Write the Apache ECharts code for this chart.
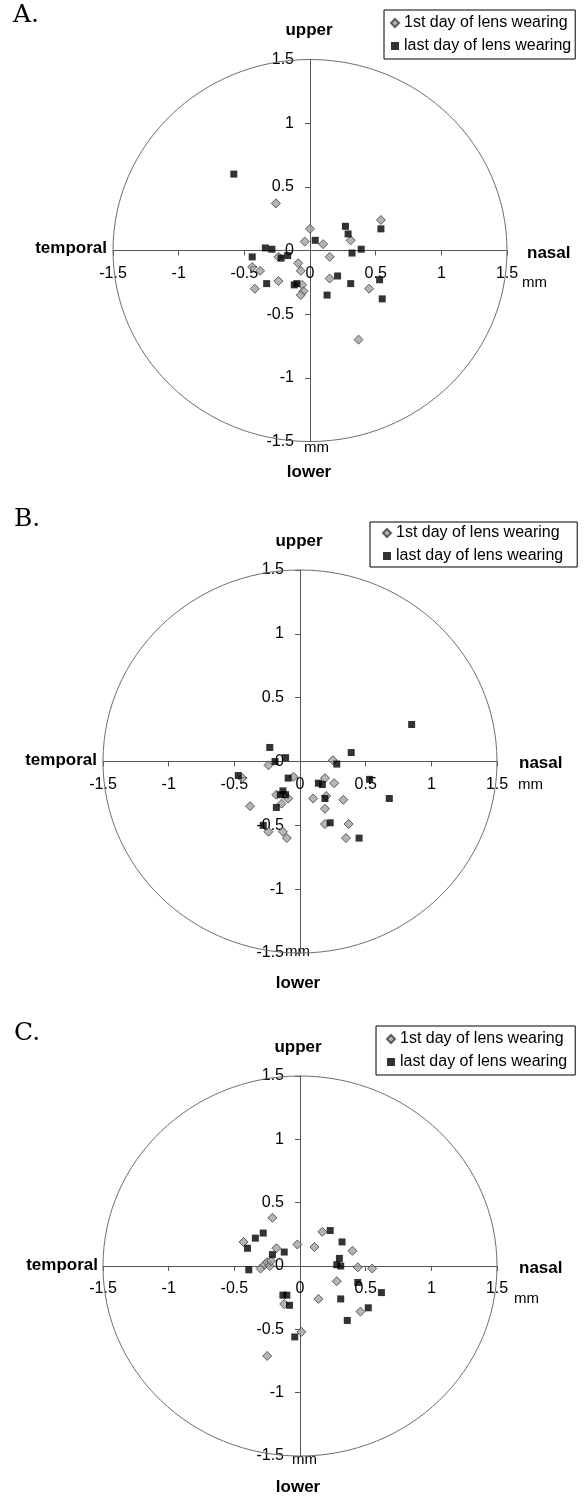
<!DOCTYPE html>
<html>
<head>
<meta charset="utf-8">
<script src="https://cdn.jsdelivr.net/npm/echarts@6/dist/echarts.min.js"></script>
<style>
  html, body { margin: 0; padding: 0; background: #fff; }
  #chart { width: 585px; height: 1497px; }
</style>
</head>
<body>
<div id="chart"></div>
<script>
// Lens decentration in mm: x > 0 nasal, x < 0 temporal; y > 0 upper, y < 0 lower
const axisMin = -1.5;
const axisMax = 1.5;
const axisStep = 0.5;
const seriesNames = ['1st day of lens wearing', 'last day of lens wearing'];
const panelLetters = ['A.', 'B.', 'C.'];
const directionLabels = { up: 'upper', down: 'lower', left: 'temporal', right: 'nasal', unit: 'mm' };

const firstDayA = [
  [-0.26, 0.37], [0.54, 0.24], [0.00, 0.17], [-0.04, 0.07], [0.10, 0.05],
  [0.31, 0.08], [0.15, -0.05], [-0.24, -0.05], [-0.44, -0.13], [-0.38, -0.16],
  [-0.42, -0.30], [-0.24, -0.24], [-0.09, -0.10], [-0.07, -0.16], [-0.06, -0.27],
  [-0.05, -0.32], [-0.07, -0.35], [0.15, -0.22], [0.45, -0.30], [0.37, -0.70]
];
const lastDayA = [
  [-0.58, 0.60], [0.27, 0.19], [0.29, 0.13], [0.54, 0.17], [0.04, 0.08],
  [-0.34, 0.02], [-0.29, 0.01], [-0.44, -0.05], [-0.22, -0.06], [-0.17, -0.04],
  [0.32, -0.02], [0.39, 0.01], [0.21, -0.20], [-0.33, -0.26], [-0.12, -0.27],
  [-0.10, -0.26], [0.31, -0.26], [0.13, -0.35], [0.53, -0.23], [0.55, -0.38]
];

const firstDayB = [
  [0.25, 0.01], [-0.24, -0.03], [-0.44, -0.13], [0.19, -0.13], [0.26, -0.17],
  [-0.18, -0.26], [-0.09, -0.29], [0.10, -0.29], [0.20, -0.27], [0.33, -0.30],
  [-0.38, -0.35], [-0.14, -0.33], [0.19, -0.37], [0.19, -0.49], [0.37, -0.49],
  [-0.24, -0.55], [-0.13, -0.55], [-0.10, -0.60], [0.35, -0.60], [-0.05, -0.12]
];
const lastDayB = [
  [0.85, 0.29], [0.39, 0.07], [-0.23, 0.11], [-0.11, 0.03], [-0.19, 0.00],
  [0.28, -0.02], [-0.47, -0.11], [-0.09, -0.13], [0.53, -0.14], [0.14, -0.17],
  [0.17, -0.18], [-0.13, -0.23], [-0.15, -0.26], [-0.11, -0.26], [0.19, -0.29],
  [0.68, -0.29], [-0.18, -0.36], [-0.28, -0.50], [0.23, -0.48], [0.45, -0.60]
];

const firstDayC = [
  [-0.21, 0.38], [-0.43, 0.19], [-0.18, 0.14], [-0.02, 0.17], [0.11, 0.15],
  [0.17, 0.27], [0.40, 0.12], [0.44, -0.01], [0.55, -0.02], [-0.30, -0.02],
  [-0.27, 0.01], [-0.25, 0.03], [-0.23, 0.00], [-0.22, 0.04], [0.28, -0.12],
  [0.14, -0.26], [-0.12, -0.30], [0.46, -0.36], [0.01, -0.52], [-0.25, -0.71]
];
const lastDayC = [
  [0.23, 0.28], [-0.28, 0.26], [-0.34, 0.22], [-0.40, 0.14], [0.32, 0.19],
  [-0.21, 0.09], [-0.12, 0.11], [0.30, 0.06], [0.28, 0.01], [0.31, 0.00],
  [-0.39, -0.03], [0.44, -0.13], [0.62, -0.21], [0.31, -0.26], [-0.13, -0.23],
  [-0.10, -0.23], [-0.08, -0.31], [0.52, -0.33], [0.36, -0.43], [-0.04, -0.56]
];

const firstDay = [firstDayA, firstDayB, firstDayC];
const lastDay = [lastDayA, lastDayB, lastDayC];

// Page layout of the three stacked panels
const panels = [
  {
    grid: { left: 113, top: 59.5, width: 394, height: 382 },
    legend: { left: 384, top: 10, padding: [4, 4, 4, 6] },
    letter: [13, 3],
    up: [309, 30], down: [309, 472],
    left: [107, 248], right: [527, 253],
    unitX: [522, 283], unitY: [304, 448]
  },
  {
    grid: { left: 103, top: 570, width: 394, height: 383 },
    legend: { left: 370, top: 522, padding: [2, 14, 2, 12] },
    letter: [14, 507],
    up: [299, 541], down: [298, 983],
    left: [97, 760], right: [519, 763],
    unitX: [518, 785], unitY: [285, 952]
  },
  {
    grid: { left: 103, top: 1076, width: 394, height: 380 },
    legend: { left: 376, top: 1026, padding: [4, 8, 4, 10] },
    letter: [14, 1021],
    up: [298, 1047], down: [298, 1487],
    left: [98, 1265], right: [519, 1268],
    unitX: [514, 1299], unitY: [292, 1460]
  }
];

const FONT = '"Liberation Sans", Arial, sans-serif';
const axisColor = '#555555';
const circleColor = '#6e6e6e';
const diamondStyle = { color: '#a3a3a3', borderColor: '#3c3c3c', borderWidth: 1 };
const squareStyle = { color: '#000000' };

const grids = [], xAxes = [], yAxes = [], series = [], legends = [], graphics = [];

function text(str, x, y, font, align, vAlign) {
  return {
    type: 'text', x: x, y: y, silent: true,
    style: { text: str, font: font, fill: '#000', align: align, verticalAlign: vAlign }
  };
}

const span = axisMax - axisMin;

panels.forEach(function (p, i) {
  grids.push(Object.assign({ outerBoundsMode: 'none', containLabel: false }, p.grid));

  const common = {
    gridIndex: i, type: 'value', min: axisMin, max: axisMax, interval: axisStep,
    axisTick: { show: true, length: 5, lineStyle: { color: axisColor, width: 1 } },
    splitLine: { show: false }
  };
  const labelBase = { fontSize: 16, color: '#000', fontFamily: FONT, showMinLabel: true, showMaxLabel: true, hideOverlap: false };
  // Axes are shifted inward so that they cross at the origin (0, 0)
  xAxes.push(Object.assign({}, common, {
    position: 'bottom',
    offset: -p.grid.height * (0 - axisMin) / span,
    axisLine: { onZero: false, lineStyle: { color: axisColor, width: 1 } },
    axisLabel: Object.assign({ margin: 15 }, labelBase)
  }));
  yAxes.push(Object.assign({}, common, {
    position: 'left',
    offset: -p.grid.width * (0 - axisMin) / span,
    axisLine: { onZero: false, lineStyle: { color: axisColor, width: 1 } },
    axisLabel: Object.assign({ margin: 16 }, labelBase)
  }));

  // Boundary circle of radius axisMax around the origin
  series.push({
    type: 'custom', xAxisIndex: i, yAxisIndex: i, silent: true, z: 1,
    data: [[0, 0]],
    renderItem: function (params, api) {
      const c = api.coord([0, 0]);
      const e = api.coord([axisMax, axisMax]);
      return {
        type: 'ellipse',
        shape: { cx: c[0], cy: c[1], rx: e[0] - c[0], ry: c[1] - e[1] },
        style: { fill: 'none', stroke: circleColor, lineWidth: 1 }
      };
    }
  });

  series.push({
    name: seriesNames[0], type: 'scatter', xAxisIndex: i, yAxisIndex: i,
    symbol: 'diamond', symbolSize: 9, itemStyle: diamondStyle, z: 3,
    data: firstDay[i]
  });
  series.push({
    name: seriesNames[1], type: 'scatter', xAxisIndex: i, yAxisIndex: i,
    symbol: 'rect', symbolSize: 7, itemStyle: squareStyle, z: 4,
    data: lastDay[i]
  });

  legends.push({
    data: [
      { name: seriesNames[0], icon: 'diamond' },
      { name: seriesNames[1], icon: 'rect' }
    ],
    orient: 'vertical', left: p.legend.left, top: p.legend.top,
    padding: p.legend.padding, itemGap: 5, itemWidth: 8, itemHeight: 8,
    borderColor: '#000', borderWidth: 1, backgroundColor: '#fff',
    selectedMode: false,
    textStyle: { fontFamily: FONT, fontSize: 16, color: '#000', lineHeight: 18 }
  });

  const bold = 'bold 17px ' + FONT;
  const unitFont = '15px ' + FONT;
  graphics.push(text(panelLetters[i], p.letter[0], p.letter[1], '25px "DejaVu Serif", serif', 'left', 'top'));
  graphics.push(text(directionLabels.up, p.up[0], p.up[1], bold, 'center', 'middle'));
  graphics.push(text(directionLabels.down, p.down[0], p.down[1], bold, 'center', 'middle'));
  graphics.push(text(directionLabels.left, p.left[0], p.left[1], bold, 'right', 'middle'));
  graphics.push(text(directionLabels.right, p.right[0], p.right[1], bold, 'left', 'middle'));
  graphics.push(text(directionLabels.unit, p.unitX[0], p.unitX[1], unitFont, 'left', 'middle'));
  graphics.push(text(directionLabels.unit, p.unitY[0], p.unitY[1], unitFont, 'left', 'middle'));
});

const chart = echarts.init(document.getElementById('chart'), null, { renderer: 'canvas' });
chart.setOption({
  animation: false,
  backgroundColor: '#fff',
  grid: grids,
  xAxis: xAxes,
  yAxis: yAxes,
  legend: legends,
  series: series,
  graphic: graphics
});
</script>
</body>
</html>
